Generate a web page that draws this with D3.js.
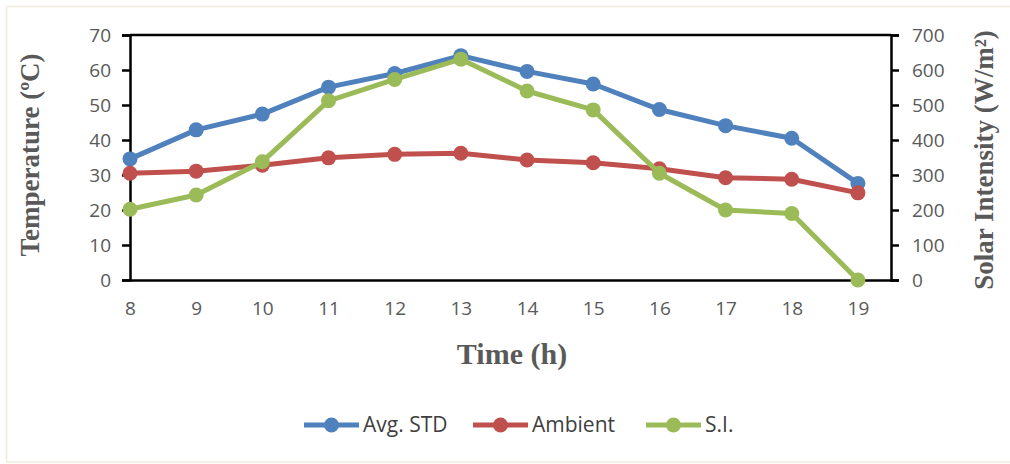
<!DOCTYPE html>
<html lang="en">
<head>
<meta charset="utf-8">
<title>Temperature and solar intensity</title>
<script src="https://cdn.jsdelivr.net/npm/d3@7"></script>
<style>
  body{ margin:0; background:#fff; }
  .tick text{ font-family:"Open Sans", "Liberation Sans", sans-serif; fill:#595959; }
  .title{ font-family:"Liberation Serif", "Times New Roman", serif; font-weight:bold; fill:#595959; }
  .legend text{ font-family:"Open Sans", "Liberation Sans", sans-serif; fill:#404040; font-size:21px; }
</style>
</head>
<body>
<div id="chart"></div>
<script>
var hours = [8, 9, 10, 11, 12, 13, 14, 15, 16, 17, 18, 19]
var avgStd = [34.6, 42.9, 47.4, 55.1, 59.0, 64.1, 59.6, 56.0, 48.7, 44.1, 40.5, 27.6]
var ambient = [30.5, 31.1, 32.8, 34.9, 35.9, 36.2, 34.3, 33.5, 31.8, 29.2, 28.8, 24.9]
var solar = [202, 243, 338, 512, 573, 631, 540, 486, 305, 200, 190, 0]
var tempTicks = [0, 10, 20, 30, 40, 50, 60, 70]
var solarTicks = [0, 100, 200, 300, 400, 500, 600, 700]

drawChart()

function drawChart(){
  var width = 1010, height = 464
  var plotLeft = 130, plotRight = 891, plotTop = 35, plotBottom = 280

  var svg = d3.select("#chart").append("svg").attr("width", width).attr("height", height)

  // outer frame
  svg.append("rect").attr("x", 6.5).attr("y", 6.5).attr("width", 1010).attr("height", 455.5)
    .attr("fill", "none").attr("stroke", "#EEEBE0").attr("stroke-width", 1.5)

  var x = d3.scaleLinear().domain([8, 19.5]).range([plotLeft, plotRight])
  var yL = d3.scaleLinear().domain([0, 70]).range([plotBottom, plotTop])
  var yR = d3.scaleLinear().domain([0, 700]).range([plotBottom, plotTop])

  // top border of plot area
  svg.append("line").attr("x1", plotLeft).attr("x2", plotRight).attr("y1", plotTop).attr("y2", plotTop)
    .attr("stroke", "#000").attr("stroke-width", 2.5)

  var gL = svg.append("g").attr("transform", "translate(" + plotLeft + ",0)")
    .call(d3.axisLeft(yL).tickValues(tempTicks).tickSize(8).tickPadding(11))
  var gR = svg.append("g").attr("transform", "translate(" + plotRight + ",0)")
    .call(d3.axisRight(yR).tickValues(solarTicks).tickSize(8).tickPadding(13))
  var gB = svg.append("g").attr("transform", "translate(0," + plotBottom + ")")
    .call(d3.axisBottom(x).tickValues(hours).tickSize(0).tickPadding(22))

  ;[gL, gR, gB].forEach(function(g){
    g.selectAll(".domain").attr("stroke", "#000").attr("stroke-width", 2.5)
    g.selectAll(".tick line").attr("stroke", "#000").attr("stroke-width", 2.5)
    g.selectAll(".tick text").style("font-size", "19px")
  })

  // axis titles
  svg.append("text").attr("class", "title").attr("transform", "translate(39,155) rotate(-90)")
    .attr("text-anchor", "middle").style("font-size", "27px").text("Temperature (ºC)")
  svg.append("text").attr("class", "title").attr("transform", "translate(993,160) rotate(-90)")
    .attr("text-anchor", "middle").style("font-size", "27px").text("Solar Intensity (W/m²)")
  svg.append("text").attr("class", "title").attr("x", 512).attr("y", 364)
    .attr("text-anchor", "middle").style("font-size", "30px").text("Time (h)")

  var series = [
    {name:"Avg. STD", values:avgStd, scale:yL, color:"#4F81BD"},
    {name:"Ambient", values:ambient, scale:yL, color:"#C0504D"},
    {name:"S.I.", values:solar, scale:yR, color:"#9BBB59"}
  ]

  series.forEach(function(s){
    var line = d3.line()
      .x(function(d, i){ return x(hours[i]) })
      .y(function(d){ return s.scale(d) })
    svg.append("path").datum(s.values).attr("d", line)
      .attr("fill", "none").attr("stroke", s.color).attr("stroke-width", 5)
      .attr("stroke-linejoin", "round")
    svg.selectAll(null).data(s.values).enter().append("circle")
      .attr("cx", function(d, i){ return x(hours[i]) })
      .attr("cy", function(d){ return s.scale(d) })
      .attr("r", 7.5).attr("fill", s.color)
  })

  // legend
  var legendX = [304, 473, 646]
  var legend = svg.append("g").attr("class", "legend")
  series.forEach(function(s, i){
    var g = legend.append("g").attr("transform", "translate(" + legendX[i] + ",425)")
    g.append("line").attr("x1", 0).attr("x2", 55).attr("stroke", s.color).attr("stroke-width", 5)
    g.append("circle").attr("cx", 27.5).attr("r", 7.5).attr("fill", s.color)
    g.append("text").attr("x", 59).attr("dy", "0.35em").text(s.name)
  })
}
</script>
</body>
</html>
